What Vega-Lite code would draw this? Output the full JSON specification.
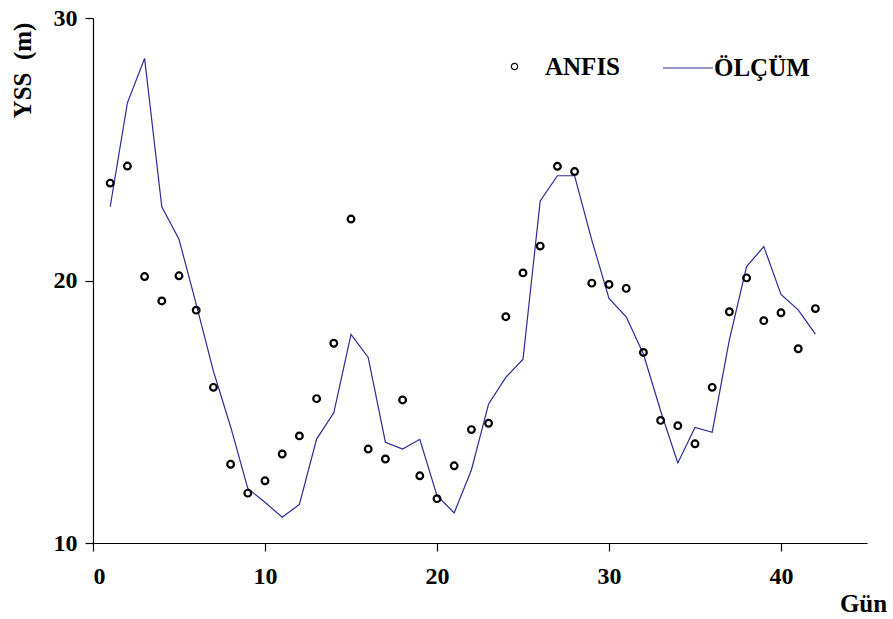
{
  "$schema": "https://vega.github.io/schema/vega-lite/v6.json",
  "width": 774,
  "height": 525,
  "autosize": {"type": "none"},
  "padding": {"left": 93, "top": 18, "right": 26, "bottom": 76},
  "background": "white",
  "config": {
    "view": {"stroke": null},
    "font": "Liberation Serif",
    "axis": {"grid": false, "domainColor": "black", "tickColor": "black", "labelColor": "black", "titleColor": "black", "labelFont": "Liberation Serif", "titleFont": "Liberation Serif", "labelFontWeight": "bold", "titleFontWeight": "bold", "labelFontSize": 24, "titleFontSize": 25, "tickSize": 8, "domainWidth": 1.2, "tickWidth": 1.2}
  },
  "data": {"values": [
    {"gun":1,"seri":"ANFIS","yss":23.71},{"gun":2,"seri":"ANFIS","yss":24.36},{"gun":3,"seri":"ANFIS","yss":20.15},{"gun":4,"seri":"ANFIS","yss":19.22},{"gun":5,"seri":"ANFIS","yss":20.18},{"gun":6,"seri":"ANFIS","yss":18.87},{"gun":7,"seri":"ANFIS","yss":15.93},{"gun":8,"seri":"ANFIS","yss":13.0},{"gun":9,"seri":"ANFIS","yss":11.9},{"gun":10,"seri":"ANFIS","yss":12.37},{"gun":11,"seri":"ANFIS","yss":13.39},{"gun":12,"seri":"ANFIS","yss":14.08},{"gun":13,"seri":"ANFIS","yss":15.5},{"gun":14,"seri":"ANFIS","yss":17.61},{"gun":15,"seri":"ANFIS","yss":22.34},{"gun":16,"seri":"ANFIS","yss":13.58},{"gun":17,"seri":"ANFIS","yss":13.2},{"gun":18,"seri":"ANFIS","yss":15.45},{"gun":19,"seri":"ANFIS","yss":12.56},{"gun":20,"seri":"ANFIS","yss":11.69},{"gun":21,"seri":"ANFIS","yss":12.94},{"gun":22,"seri":"ANFIS","yss":14.32},{"gun":23,"seri":"ANFIS","yss":14.56},{"gun":24,"seri":"ANFIS","yss":18.62},{"gun":25,"seri":"ANFIS","yss":20.29},{"gun":26,"seri":"ANFIS","yss":21.31},{"gun":27,"seri":"ANFIS","yss":24.35},{"gun":28,"seri":"ANFIS","yss":24.15},{"gun":29,"seri":"ANFIS","yss":19.9},{"gun":30,"seri":"ANFIS","yss":19.85},{"gun":31,"seri":"ANFIS","yss":19.7},{"gun":32,"seri":"ANFIS","yss":17.26},{"gun":33,"seri":"ANFIS","yss":14.67},{"gun":34,"seri":"ANFIS","yss":14.47},{"gun":35,"seri":"ANFIS","yss":13.78},{"gun":36,"seri":"ANFIS","yss":15.93},{"gun":37,"seri":"ANFIS","yss":18.81},{"gun":38,"seri":"ANFIS","yss":20.1},{"gun":39,"seri":"ANFIS","yss":18.47},{"gun":40,"seri":"ANFIS","yss":18.77},{"gun":41,"seri":"ANFIS","yss":17.4},{"gun":42,"seri":"ANFIS","yss":18.93},
    {"gun":1,"seri":"ÖLÇÜM","yss":22.81},{"gun":2,"seri":"ÖLÇÜM","yss":26.77},{"gun":3,"seri":"ÖLÇÜM","yss":28.46},{"gun":4,"seri":"ÖLÇÜM","yss":22.81},{"gun":5,"seri":"ÖLÇÜM","yss":21.57},{"gun":6,"seri":"ÖLÇÜM","yss":19.1},{"gun":7,"seri":"ÖLÇÜM","yss":16.55},{"gun":8,"seri":"ÖLÇÜM","yss":14.43},{"gun":9,"seri":"ÖLÇÜM","yss":12.08},{"gun":10,"seri":"ÖLÇÜM","yss":11.55},{"gun":11,"seri":"ÖLÇÜM","yss":10.98},{"gun":12,"seri":"ÖLÇÜM","yss":11.47},{"gun":13,"seri":"ÖLÇÜM","yss":13.96},{"gun":14,"seri":"ÖLÇÜM","yss":14.96},{"gun":15,"seri":"ÖLÇÜM","yss":17.95},{"gun":16,"seri":"ÖLÇÜM","yss":17.07},{"gun":17,"seri":"ÖLÇÜM","yss":13.84},{"gun":18,"seri":"ÖLÇÜM","yss":13.58},{"gun":19,"seri":"ÖLÇÜM","yss":13.95},{"gun":20,"seri":"ÖLÇÜM","yss":11.8},{"gun":21,"seri":"ÖLÇÜM","yss":11.15},{"gun":22,"seri":"ÖLÇÜM","yss":12.78},{"gun":23,"seri":"ÖLÇÜM","yss":15.3},{"gun":24,"seri":"ÖLÇÜM","yss":16.31},{"gun":25,"seri":"ÖLÇÜM","yss":17.0},{"gun":26,"seri":"ÖLÇÜM","yss":23.03},{"gun":27,"seri":"ÖLÇÜM","yss":23.99},{"gun":28,"seri":"ÖLÇÜM","yss":23.99},{"gun":29,"seri":"ÖLÇÜM","yss":21.54},{"gun":30,"seri":"ÖLÇÜM","yss":19.32},{"gun":31,"seri":"ÖLÇÜM","yss":18.62},{"gun":32,"seri":"ÖLÇÜM","yss":17.2},{"gun":33,"seri":"ÖLÇÜM","yss":15.04},{"gun":34,"seri":"ÖLÇÜM","yss":13.05},{"gun":35,"seri":"ÖLÇÜM","yss":14.4},{"gun":36,"seri":"ÖLÇÜM","yss":14.22},{"gun":37,"seri":"ÖLÇÜM","yss":17.75},{"gun":38,"seri":"ÖLÇÜM","yss":20.53},{"gun":39,"seri":"ÖLÇÜM","yss":21.29},{"gun":40,"seri":"ÖLÇÜM","yss":19.47},{"gun":41,"seri":"ÖLÇÜM","yss":18.88},{"gun":42,"seri":"ÖLÇÜM","yss":17.96}
  ]},
  "encoding": {
    "x": {"field": "gun", "type": "quantitative", "scale": {"domain": [0, 45], "nice": false, "zero": false},
      "axis": {"values": [0, 10, 20, 30, 40], "title": "Gün", "titleX": 770, "titleY": 60, "titleAlign": "center", "titleBaseline": "middle", "labelPadding": 13}},
    "y": {"field": "yss", "type": "quantitative", "scale": {"domain": [10, 30], "nice": false, "zero": false},
      "axis": {"values": [10, 20, 30], "title": "YSS \u00a0(m)", "titleX": -71, "titleY": 52, "titleAlign": "center", "titleBaseline": "middle", "titleAngle": -90, "labelPadding": 8}}
  },
  "layer": [
    {
      "transform": [{"filter": "datum.seri === 'ÖLÇÜM'"}],
      "mark": {"type": "line", "strokeWidth": 1.2, "color": "#2b2b9b"},
      "encoding": {
        "stroke": {"field": "seri", "type": "nominal", "scale": {"range": ["#2b2b9b"]},
          "legend": {"orient": "none", "legendX": 569, "legendY": 24, "title": null, "symbolType": "stroke", "symbolSize": 2500, "symbolStrokeWidth": 1.2, "labelOffset": 0, "labelFont": "Liberation Serif", "labelFontSize": 25, "labelFontWeight": "bold", "labelColor": "black"}}
      }
    },
    {
      "transform": [{"filter": "datum.seri === 'ANFIS'"}],
      "mark": {"type": "point", "filled": false, "color": "black", "strokeWidth": 2.2, "size": 45, "opacity": 1},
      "encoding": {
        "shape": {"field": "seri", "type": "nominal", "scale": {"range": ["circle"]},
          "legend": {"orient": "none", "legendX": 409, "legendY": 36, "title": null, "symbolSize": 40, "symbolStrokeWidth": 1.2, "symbolStrokeColor": "black", "labelOffset": 18, "labelFont": "Liberation Serif", "labelFontSize": 25, "labelFontWeight": "bold", "labelColor": "black"}}
      }
    }
  ]
}
